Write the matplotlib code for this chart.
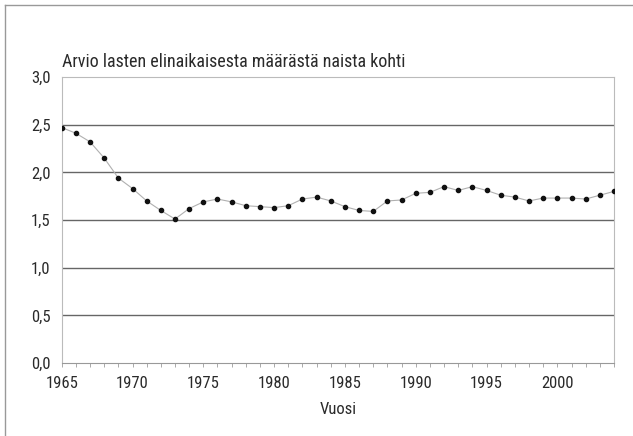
import numpy as np
import matplotlib.pyplot as plt
from matplotlib.ticker import MultipleLocator, FuncFormatter

# arvio lasten elinaikaisesta maarasta naista kohti
years = list(range(1965, 2005))
tfr = [2.47, 2.41, 2.32, 2.15, 1.94, 1.83, 1.70, 1.60, 1.51, 1.62,
       1.69, 1.72, 1.69, 1.65, 1.64, 1.63, 1.65, 1.72, 1.74, 1.70,
       1.64, 1.60, 1.59, 1.70, 1.71, 1.78, 1.79, 1.85, 1.81, 1.85,
       1.81, 1.76, 1.74, 1.70, 1.73, 1.73, 1.73, 1.72, 1.76, 1.80]
y_ticks = [0.0, 0.5, 1.0, 1.5, 2.0, 2.5, 3.0]
x_ticks = [1965, 1970, 1975, 1980, 1985, 1990, 1995, 2000]

plt.rcParams['font.family'] = ['Roboto Condensed', 'Liberation Sans Narrow', 'Roboto', 'DejaVu Sans']
txt = '#2a2a2a'

fig = plt.figure(figsize=(6.33, 4.36), dpi=100)
ax = fig.add_axes([61.7/633, 1 - 363/436, (614 - 61.7)/633, (363 - 77)/436])

# outer frame (left and top edges only)
fig.add_artist(plt.Line2D([5/633, 5/633], [0, 1 - 5/436], color='#999999', lw=1.0,
                          transform=fig.transFigure))
fig.add_artist(plt.Line2D([5/633, 1], [1 - 5/436, 1 - 5/436], color='#999999', lw=1.0,
                          transform=fig.transFigure))

for v in y_ticks[1:-1]:
    ax.axhline(v, color='#666666', lw=1.0, zorder=1)

ax.plot(years, tfr, color='#b0b0b0', lw=0.8, zorder=2)
ax.plot(years, tfr, 'o', color='#111111', ms=3.0, zorder=3)

ax.set_xlim(1965, 2004)
ax.set_ylim(0, 3.0)
ax.set_yticks(y_ticks)
ax.yaxis.set_major_formatter(FuncFormatter(lambda v, p: ('%.1f' % v).replace('.', ',')))
ax.set_xticks(x_ticks)
ax.xaxis.set_minor_locator(MultipleLocator(1))
ax.tick_params(axis='y', length=0, pad=8, labelsize=12, labelcolor=txt)
ax.tick_params(axis='x', which='both', length=3, color='#aaaaaa', width=0.7,
               pad=6, labelsize=12, labelcolor=txt)

for s in ['top', 'right', 'left']:
    ax.spines[s].set_color('#bbbbbb')
    ax.spines[s].set_linewidth(0.8)
ax.spines['bottom'].set_color('#999999')
ax.spines['bottom'].set_linewidth(0.8)

ax.set_xlabel('Vuosi', fontsize=12, color=txt, labelpad=8)
ax.text(0.0, 1.02, 'Arvio lasten elinaikaisesta määrästä naista kohti',
        transform=ax.transAxes, fontsize=13, color=txt, ha='left', va='bottom')

fig.savefig('out.png', dpi=100)
